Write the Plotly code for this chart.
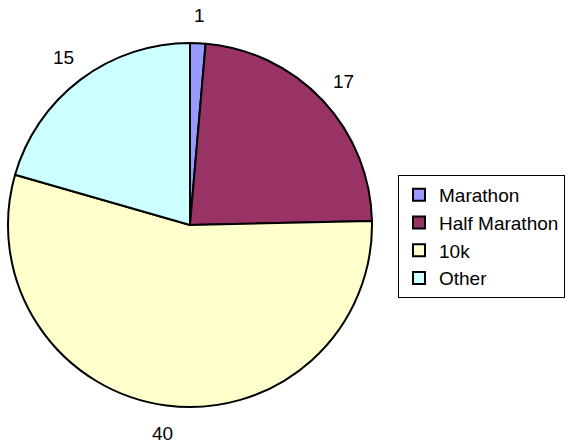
import math
import plotly.graph_objects as go

labels = ["Marathon", "Half Marathon", "10k", "Other"]
values = [1, 17, 40, 15]
colors = ["#9999FF", "#993366", "#FFFFCC", "#CCFFFF"]

W, H = 572, 445
cx, cy, r = 190, 225, 182
label_r = 210
font = "Liberation Sans, Arial, sans-serif"

fig = go.Figure(go.Pie(
    labels=labels, values=values, sort=False, direction="clockwise", rotation=0,
    marker=dict(colors=colors, line=dict(color="black", width=2)),
    textinfo="none", hoverinfo="label+value",
    domain=dict(x=[(cx - r) / W, (cx + r) / W], y=[1 - (cy + r) / H, 1 - (cy - r) / H]),
))

total = sum(values)
cum = 0
annotations = []
for v in values:
    mid = (cum + v / 2) / total * 2 * math.pi
    cum += v
    px = cx + label_r * math.sin(mid)
    py = cy - label_r * math.cos(mid)
    annotations.append(dict(x=px / W, y=1 - py / H, xref="paper", yref="paper",
                            text=str(v), showarrow=False,
                            font=dict(family=font, size=19, color="black"),
                            xanchor="center", yanchor="middle"))

fig.update_layout(
    width=W, height=H, margin=dict(l=0, r=0, t=0, b=0),
    paper_bgcolor="white", plot_bgcolor="white",
    annotations=annotations,
    showlegend=True,
    legend=dict(x=398 / W, y=1 - 175 / H, xanchor="left", yanchor="top",
                bordercolor="black", borderwidth=1, bgcolor="white",
                font=dict(family=font, size=19, color="black")),
)
fig.write_html("out.html", config={"displayModeBar": False},
               post_script="document.body.style.margin='0';document.body.style.overflow='hidden';")
